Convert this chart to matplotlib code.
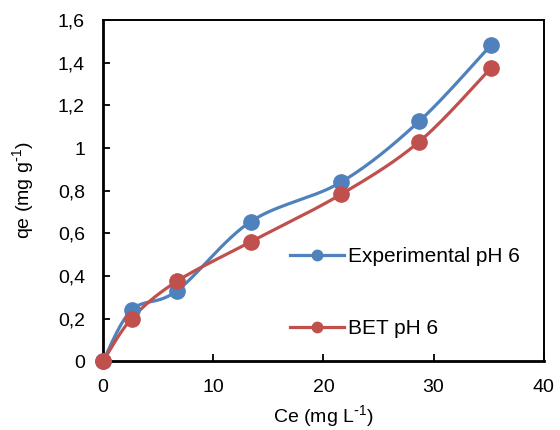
import numpy as np
import matplotlib
matplotlib.use("Agg")
import matplotlib.pyplot as plt
from matplotlib.lines import Line2D

plt.rcParams['font.family'] = ['Liberation Sans', 'DejaVu Sans']
plt.rcParams['mathtext.default'] = 'regular'

ce = [0, 2.6, 6.7, 13.4, 21.6, 28.7, 35.2]
qe_exp = [0, 0.24, 0.33, 0.655, 0.84, 1.126, 1.483]
qe_bet = [0, 0.20, 0.375, 0.56, 0.783, 1.03, 1.375]
xticks = [0, 10, 20, 30, 40]
yticks = [0, 0.2, 0.4, 0.6, 0.8, 1.0, 1.2, 1.4, 1.6]
ytick_labels = ['0', '0,2', '0,4', '0,6', '0,8', '1', '1,2', '1,4', '1,6']

blue = '#4F81BD'
red = '#C0504D'

XMAX, YMAX = 40, 1.6
W_PX, H_PX = 441, 341
FS = 14


def smooth(x, y, n=30):
    # Excel-like Bezier smoothing computed in screen-proportional space
    px = np.asarray(x, float) / XMAX * W_PX
    py = np.asarray(y, float) / YMAX * H_PX
    P = np.column_stack([px, py])
    out = []
    m = len(P)
    for i in range(m - 1):
        p0 = P[i - 1] if i > 0 else P[i]
        p1 = P[i]
        p2 = P[i + 1]
        p3 = P[i + 2] if i + 2 < m else P[i + 1]
        c1 = p1 + (p2 - p0) / 6.0
        c2 = p2 - (p3 - p1) / 6.0
        t = np.linspace(0, 1, n)[:, None]
        seg = ((1 - t) ** 3) * p1 + 3 * ((1 - t) ** 2) * t * c1 + 3 * (1 - t) * t ** 2 * c2 + t ** 3 * p2
        out.append(seg if i == 0 else seg[1:])
    S = np.vstack(out)
    return S[:, 0] / W_PX * XMAX, S[:, 1] / H_PX * YMAX


fig = plt.figure(figsize=(5.6, 4.3), dpi=100)
ax = fig.add_axes([0.184, 0.160, 0.787, 0.793])

for yv, col in [(qe_exp, blue), (qe_bet, red)]:
    sx, sy = smooth(ce, yv)
    ax.plot(sx, sy, color=col, lw=2.3, solid_capstyle='round', zorder=2, clip_on=False)
    ax.plot(ce, yv, 'o', color=col, ms=11, zorder=3, clip_on=False)

ax.set_xlim(0, XMAX)
ax.set_ylim(0, YMAX)
ax.set_xticks(xticks)
ax.set_yticks(yticks)
ax.set_yticklabels(ytick_labels)
ax.tick_params(direction='in', length=5, width=1.3, labelsize=FS)
ax.tick_params(axis='x', pad=13)
ax.tick_params(axis='y', pad=13)
for s in ax.spines.values():
    s.set_linewidth(1.4)
    s.set_color('black')
ax.spines['left'].set_linewidth(2)
ax.spines['bottom'].set_linewidth(2)

ax.set_xlabel(r'Ce (mg L$^{\text{-}1}$)', fontsize=FS, labelpad=5)
ax.set_ylabel(r'qe (mg g$^{\text{-}1}$)', fontsize=FS, labelpad=16)

handles = [Line2D([], [], color=blue, lw=2.3, marker='o', ms=7.5),
           Line2D([], [], color=red, lw=2.3, marker='o', ms=7.5)]
ax.legend(handles, ['Experimental pH 6', 'BET pH 6'], loc='upper left',
          bbox_to_anchor=(0.424, 0.335), frameon=False, fontsize=15,
          handlelength=2.6, handletextpad=0.2, labelspacing=2.55,
          borderaxespad=0, borderpad=0)

fig.savefig('out.png', dpi=100)
